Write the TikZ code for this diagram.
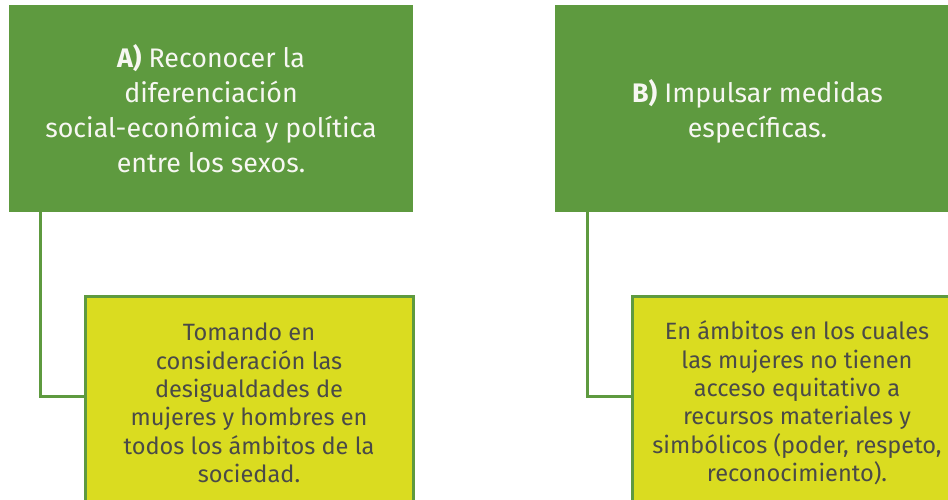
\documentclass[tikz,border=0pt]{standalone}
\usepackage{fontspec}
\setmainfont{Fira Sans}
\definecolor{leaf}{HTML}{5E9A3F}
\definecolor{lime}{HTML}{DADC20}
\definecolor{inkgray}{HTML}{4A4A48}
\definecolor{paper}{HTML}{F7F7F2}
\begin{document}
\begin{tikzpicture}[x=1pt,y=-1pt,
  headbox/.style={rectangle, fill=leaf, draw=none, text=paper, align=center,
    font=\fontsize{26.8}{35}\selectfont, inner sep=0pt},
  notebox/.style={rectangle, fill=lime, draw=leaf, line width=3pt, text=inkgray, align=center,
    font=\fontsize{23.6}{28.4}\selectfont, inner sep=0pt},
  conn/.style={draw=leaf, line width=3pt}]
\useasboundingbox (0,0) rectangle (948,499);
\clip (0,0) rectangle (948,499);
\fill[white] (0,0) rectangle (948,499);
\node[headbox, minimum width=404pt, minimum height=207pt] (gA) at (211,108.5)
  {\textbf{A)} Reconocer la\\diferenciación\\social-económica y política\\entre los sexos.};
\node[headbox, minimum width=405pt, minimum height=207pt] (gB) at (757.5,108.5)
  {\mbox{}\\[-6pt]\textbf{B)} Impulsar medidas\\específicas.};
\node[notebox, minimum width=328pt, minimum height=214pt] (yA) at (249,403)
  {Tomando en\\consideración las\\desigualdades de\\mujeres y hombres en\\todos los ámbitos de la\\sociedad.};
\node[notebox, minimum width=330pt, minimum height=214pt] (yB) at (797,403)
  {En ámbitos en los cuales\\las mujeres no tienen\\acceso equitativo a\\recursos materiales y\\simbólicos (poder, respeto,\\reconocimiento).};
\coordinate (kA) at (40,396);
\coordinate (kB) at (587,396);
\draw[conn] (gA.south -| kA) -- (kA) -- (kA -| yA.west);
\draw[conn] (gB.south -| kB) -- (kB) -- (kB -| yB.west);
\end{tikzpicture}
\end{document}
